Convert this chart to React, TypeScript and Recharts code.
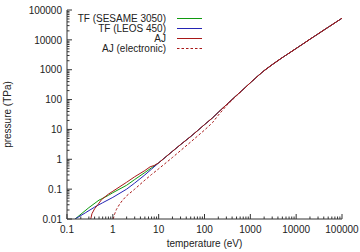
import React from 'react'
import { LineChart, Line, XAxis, YAxis } from 'recharts'

// temperature (eV) / pressure (TPa)
const sesameT = [0.15, 0.3, 0.5, 0.55, 0.8, 1, 2, 3, 5, 7]
const sesameP = [0.01, 0.024, 0.043, 0.046, 0.062, 0.076, 0.135, 0.21, 0.36, 0.52]

const leosT = [0.15, 0.25, 0.4, 0.6, 1, 2, 3, 5, 7]
const leosP = [0.01, 0.016, 0.025, 0.035, 0.053, 0.1, 0.16, 0.3, 0.47]

const ajT = [0.33, 0.35, 0.4, 0.47, 0.57, 0.8, 1, 2, 3, 5, 6.5, 8]
const ajP = [0.01, 0.015, 0.022, 0.03, 0.045, 0.068, 0.085, 0.17, 0.26, 0.42, 0.56, 0.62]

// all three merge above ~10 eV
const tailT = [10, 15, 20, 30, 50, 70, 100, 150, 200, 300, 500, 700, 1000, 1500, 2000, 3000, 5000, 10000, 20000, 50000, 100000]
const tailP = [0.76, 1.28, 1.85, 3.1, 5.8, 9.0, 14.5, 24.5, 37.5, 67, 138, 220, 365, 640, 930, 1480, 2550, 5150, 10500, 26500, 53000]

const ajElecT = [1.02, 1.1, 1.2, 1.4, 1.6, 2, 3, 5, 7, 10, 20, 50, 100, 150, 200, 300, 500, 700, 1000, 1500, 2000, 3000, 5000, 10000, 20000, 50000, 100000]
const ajElecP = [0.01, 0.015, 0.021, 0.031, 0.041, 0.06, 0.1, 0.2, 0.31, 0.48, 1.15, 3.8, 9.5, 17, 30, 62, 134, 218, 365, 640, 930, 1480, 2550, 5150, 10500, 26500, 53000]

const xMajor = [0.1, 1, 10, 100, 1000, 10000, 100000]
const xLabels = ['0.1', '1', '10', '100', '1000', '10000', '100000']
const yMajor = [0.01, 0.1, 1, 10, 100, 1000, 10000, 100000]
const yLabels = ['0.01', '0.1', '1', '10', '100', '1000', '10000', '100000']
const minorSteps = [2, 3, 4, 5, 6, 7, 8, 9]

const GREEN = '#109a10'
const BLUE = '#2424b4'
const RED = '#a81818'
const FRAME = '#333'
const FONT = "'Liberation Sans', Arial, Helvetica, sans-serif"

const zip = (t: number[], p: number[]) => t.map((x, i) => ({ x, p: p[i] }))

const sesame = zip([...sesameT, ...tailT], [...sesameP, ...tailP])
const leos = zip([...leosT, ...tailT], [...leosP, ...tailP])
const aj = zip([...ajT, ...tailT], [...ajP, ...tailP])
const ajElec = zip(ajElecT, ajElecP)

function withMinor(majors: number[]) {
  const out: number[] = []
  majors.forEach((m, i) => {
    out.push(m)
    if (i < majors.length - 1) minorSteps.forEach(s => out.push(m * s))
  })
  return out
}
const xTicks = withMinor(xMajor)
const yTicks = withMinor(yMajor)

type Side = 'bottom' | 'top' | 'left' | 'right'

function makeTick(side: Side, majors: number[], labels: string[]) {
  return (props: any) => {
    const { x, y, payload } = props
    const v = payload.value
    const idx = majors.findIndex(m => Math.abs(m - v) / m < 1e-6)
    const len = idx >= 0 ? 5 : 2.5
    let l = { x1: x, x2: x, y1: y, y2: y }
    if (side === 'bottom') l.y2 = y - len
    if (side === 'top') l.y2 = y + len
    if (side === 'left') l.x2 = x + len
    if (side === 'right') l.x2 = x - len
    return (
      <g>
        <line {...l} stroke={FRAME} strokeWidth={1} />
        {idx >= 0 && side === 'bottom' && (
          <text x={x} y={y + 14} textAnchor="middle" fontSize={10} fontFamily={FONT} fill="#222">
            {labels[idx]}
          </text>
        )}
        {idx >= 0 && side === 'left' && (
          <text x={x - 5} y={y + 3.7} textAnchor="end" fontSize={10} fontFamily={FONT} fill="#222">
            {labels[idx]}
          </text>
        )}
      </g>
    )
  }
}

const legendRows = [
  { name: 'TF (SESAME 3050)', color: GREEN, dash: undefined },
  { name: 'TF (LEOS 450)', color: BLUE, dash: undefined },
  { name: 'AJ', color: RED, dash: undefined },
  { name: 'AJ (electronic)', color: RED, dash: '2.5 2' },
]

export default function App() {
  return (
    <div style={{ position: 'fixed', left: 0, top: 0, width: 360, height: 252, background: '#fff' }}>
      <LineChart width={360} height={252} margin={{ top: 10, right: 18, left: 0, bottom: 0 }}>
        <XAxis
          xAxisId="bottom"
          type="number"
          dataKey="x"
          scale="log"
          domain={[0.1, 100000]}
          allowDataOverflow
          ticks={xTicks}
          interval={0}
          height={33}
          tickSize={0}
          tickMargin={0}
          tick={makeTick('bottom', xMajor, xLabels)}
          axisLine={{ stroke: FRAME }}
          tickLine={false}
        />
        <XAxis
          xAxisId="top"
          orientation="top"
          type="number"
          dataKey="x"
          scale="log"
          domain={[0.1, 100000]}
          allowDataOverflow
          ticks={xTicks}
          interval={0}
          height={0}
          tickSize={0}
          tickMargin={0}
          tick={makeTick('top', xMajor, xLabels)}
          axisLine={{ stroke: FRAME }}
          tickLine={false}
        />
        <YAxis
          yAxisId="left"
          type="number"
          scale="log"
          domain={[0.01, 100000]}
          allowDataOverflow
          ticks={yTicks}
          interval={0}
          width={67}
          tickSize={0}
          tickMargin={0}
          tick={makeTick('left', yMajor, yLabels)}
          axisLine={{ stroke: FRAME }}
          tickLine={false}
        />
        <YAxis
          yAxisId="right"
          orientation="right"
          type="number"
          scale="log"
          domain={[0.01, 100000]}
          allowDataOverflow
          ticks={yTicks}
          interval={0}
          width={0}
          tickSize={0}
          tickMargin={0}
          tick={makeTick('right', yMajor, yLabels)}
          axisLine={{ stroke: FRAME }}
          tickLine={false}
        />
        <Line xAxisId="bottom" yAxisId="left" data={sesame} dataKey="p" type="linear" stroke={GREEN} strokeWidth={1} dot={false} isAnimationActive={false} />
        <Line xAxisId="bottom" yAxisId="left" data={leos} dataKey="p" type="linear" stroke={BLUE} strokeWidth={1} dot={false} isAnimationActive={false} />
        <Line xAxisId="bottom" yAxisId="left" data={aj} dataKey="p" type="linear" stroke={RED} strokeWidth={1} dot={false} isAnimationActive={false} />
        <Line xAxisId="bottom" yAxisId="left" data={ajElec} dataKey="p" type="linear" stroke={RED} strokeWidth={1} strokeDasharray="2.5 2" dot={false} isAnimationActive={false} />
      </LineChart>
      <svg width={360} height={252} style={{ position: 'absolute', left: 0, top: 0, pointerEvents: 'none' }}>
        {legendRows.map((r, i) => (
          <g key={r.name}>
            <text x={166} y={21.5 + i * 10} textAnchor="end" fontSize={10} fontFamily={FONT} fill="#222">
              {r.name}
            </text>
            <line x1={177} x2={202} y1={18.5 + i * 10} y2={18.5 + i * 10} stroke={r.color} strokeWidth={1} strokeDasharray={r.dash} />
          </g>
        ))}
        <text x={204.5} y={247} textAnchor="middle" fontSize={10} fontFamily={FONT} fill="#222">
          temperature (eV)
        </text>
        <text transform="translate(11,114.5) rotate(-90)" textAnchor="middle" fontSize={10} fontFamily={FONT} fill="#222">
          pressure (TPa)
        </text>
      </svg>
    </div>
  )
}
